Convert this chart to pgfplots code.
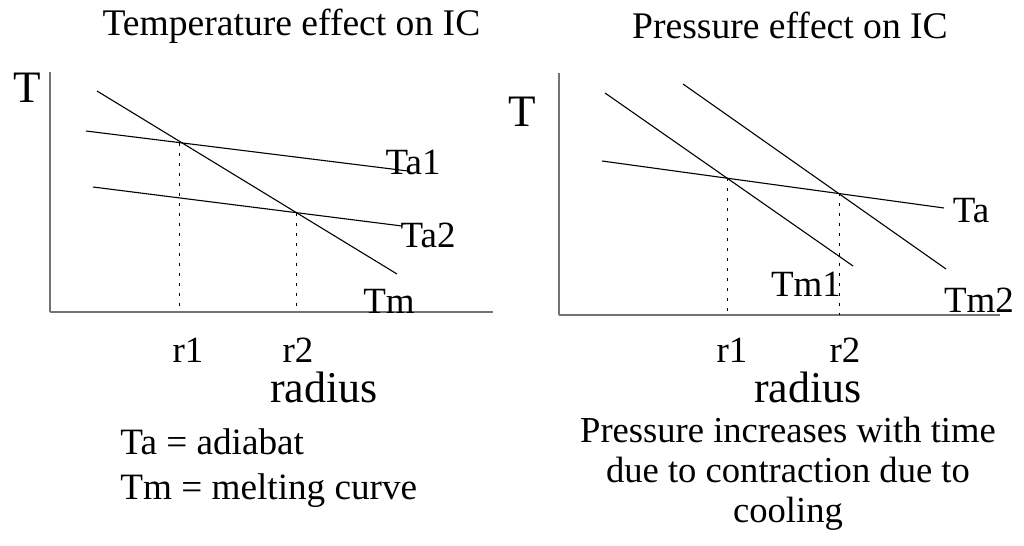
\documentclass[border=0pt]{standalone}
\usepackage{pgfplots}
\pgfplotsset{compat=1.18}
\usepackage{fontspec}
\setmainfont{Liberation Serif}
\newcommand{\fs}[1]{\fontsize{#1}{#1}\selectfont}
\pgfplotsset{
  ic/.style={
    scale only axis, clip=false,
    axis x line=bottom, axis y line=left,
    axis line style={-, draw=black!55, line width=0.8pt},
    ytick=\empty, major tick length=0pt,
    xticklabel style={anchor=base, font=\fs{18.5}},
    xlabel={radius}, ylabel={T},
    every axis x label/.style={anchor=base, font=\fs{22}},
    every axis y label/.style={anchor=base, font=\fs{22.5}},
    every axis title/.style={anchor=base, font=\fs{18.8}},
  },
  crv/.style={black, line width=0.55pt},
  dot/.style={black, line width=0.5pt, dash pattern=on 1.5pt off 3.5pt},
}
\begin{document}
\begin{tikzpicture}
\useasboundingbox (0,0) rectangle (512pt,273pt);
% Left panel: temperature effect
\begin{axis}[ic, at={(25pt,117pt)}, anchor=south west,
  width=221.5pt, height=120pt,
  xmin=50, xmax=493, ymin=234, ymax=474,
  xtick={188,298}, xticklabels={r1,r2},
  xticklabel style={yshift=-25.5pt},
  title={Temperature effect on IC},
  title style={at={(axis description cs:0.545,1.154)}},
  xlabel style={at={(axis description cs:0.6185,-0.379)}},
  ylabel style={at={(axis description cs:-0.052,0.871)}}]
\addplot[crv] coordinates {(97,455) (397,272)};
\addplot[crv] coordinates {(86,415) (408,375)};
\addplot[crv] coordinates {(93,359) (402,320)};
\addplot[dot] coordinates {(180,403) (180,234)};
\addplot[dot] coordinates {(296,333) (296,234)};
\node[anchor=base, font=\fs{18.5}] at (axis cs:413,371) {Ta1};
\node[anchor=base, font=\fs{18.5}] at (axis cs:428,298) {Ta2};
\node[anchor=base, font=\fs{18.5}] at (axis cs:389,232) {Tm};
\node[anchor=base west, inner sep=0pt, font=\fs{18.6}] at (axis cs:120,91) {Ta = adiabat};
\node[anchor=base west, inner sep=0pt, font=\fs{18.6}] at (axis cs:120,46) {Tm = melting curve};
\end{axis}
% Right panel: pressure effect
\begin{axis}[ic, at={(279.5pt,115.5pt)}, anchor=south west,
  width=220.5pt, height=121pt,
  xmin=559, xmax=1000, ymin=231, ymax=473,
  xtick={732,845}, xticklabels={r1,r2},
  xticklabel style={yshift=-24pt},
  title={Pressure effect on IC},
  title style={at={(axis description cs:0.5238,1.1405)}},
  xlabel style={at={(axis description cs:0.5646,-0.3636)}},
  ylabel style={at={(axis description cs:-0.0839,0.7769)}}]
\addplot[crv] coordinates {(605,453) (853,280)};
\addplot[crv] coordinates {(683,462) (946,277)};
\addplot[crv] coordinates {(602,385) (944,338)};
\addplot[dot] coordinates {(727,368) (727,231)};
\addplot[dot] coordinates {(839,353) (839,231)};
\node[anchor=base, font=\fs{18.5}] at (axis cs:971,323) {Ta};
\node[anchor=base, font=\fs{18.5}] at (axis cs:806,249) {Tm1};
\node[anchor=base, font=\fs{18.5}] at (axis cs:979,233) {Tm2};
\node[anchor=base, font=\fs{18.3}] at (axis cs:788,103) {Pressure increases with time};
\node[anchor=base, font=\fs{18.3}] at (axis cs:788,63) {due to contraction due to};
\node[anchor=base, font=\fs{18.3}] at (axis cs:788,23) {cooling};
\end{axis}
\end{tikzpicture}
\end{document}
